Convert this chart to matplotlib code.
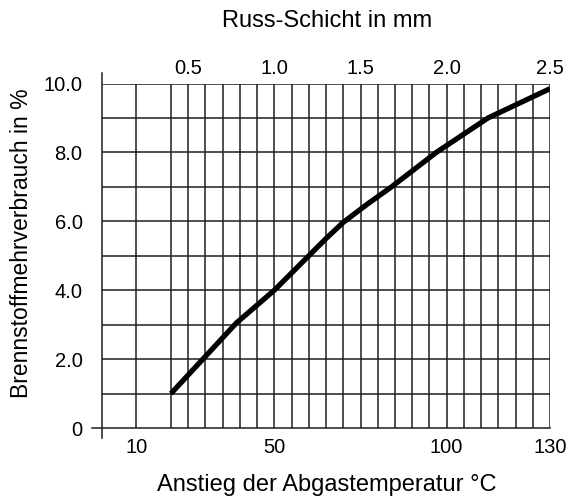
import matplotlib.pyplot as plt

# curve: temperature rise (°C) vs extra fuel use (%)
temp = [20, 39, 50, 60, 65, 70, 77, 84, 97, 112, 130]
fuel = [1.0, 3.05, 4.0, 5.0, 5.5, 5.97, 6.5, 7.0, 8.0, 9.0, 9.85]

x_grid = [10, 20, 25, 30, 35, 40, 45, 50, 55, 60, 65, 70, 75, 80, 85, 90,
          95, 100, 105, 110, 115, 120, 125, 130]
y_grid = [1, 2, 3, 4, 5, 6, 7, 8, 9, 10]

bottom_ticks = [10, 50, 100, 130]
y_ticks = [0, 2, 4, 6, 8, 10]
y_labels = ['0', '2.0', '4.0', '6.0', '8.0', '10.0']
# soot layer thickness shown on top, placed at matching temperatures
top_pos = [25, 50, 75, 100, 130]
top_labels = ['0.5', '1.0', '1.5', '2.0', '2.5']

plt.rcParams['font.family'] = ['Liberation Sans', 'DejaVu Sans']

fig = plt.figure(figsize=(5.7, 5), dpi=100)
ax = fig.add_axes([0.179, 0.144, 0.786, 0.689])
ax.set_xlim(0, 130)
ax.set_ylim(0, 10)
for s in ax.spines.values():
    s.set_visible(False)

gc = '#1e1e1e'
ax.vlines(x_grid, 0, 10, color=gc, lw=1.1)
ax.hlines(y_grid, 0, 130, color=gc, lw=1.1)
# axis lines reaching a little past the grid
ax.plot([0, 0], [-0.3, 10.3], color=gc, lw=1.1, clip_on=False)
ax.plot([-3, 130], [0, 0], color=gc, lw=1.1, clip_on=False)

ax.plot(temp, fuel, color='black', lw=3.8, solid_capstyle='butt',
        solid_joinstyle='round')

ax.set_xticks(bottom_ticks)
ax.set_yticks(y_ticks, y_labels)
ax.tick_params(axis='x', length=0, pad=7, labelsize=14.5)
ax.tick_params(axis='y', length=0, pad=14, labelsize=14.5)

ax2 = ax.twiny()
ax2.set_xlim(0, 130)
for s in ax2.spines.values():
    s.set_visible(False)
ax2.set_xticks(top_pos, top_labels)
ax2.tick_params(axis='x', length=0, pad=4, labelsize=14.5)

fig.text(0.574, 0.958, 'Russ-Schicht in mm', ha='center', va='center', fontsize=17)
fig.text(0.574, 0.03, 'Anstieg der Abgastemperatur °C', ha='center', va='center', fontsize=17)
fig.text(0.037, 0.514, 'Brennstoffmehrverbrauch in %', ha='center', va='center',
         rotation=90, fontsize=16.5)

fig.savefig('out.png', dpi=100)
